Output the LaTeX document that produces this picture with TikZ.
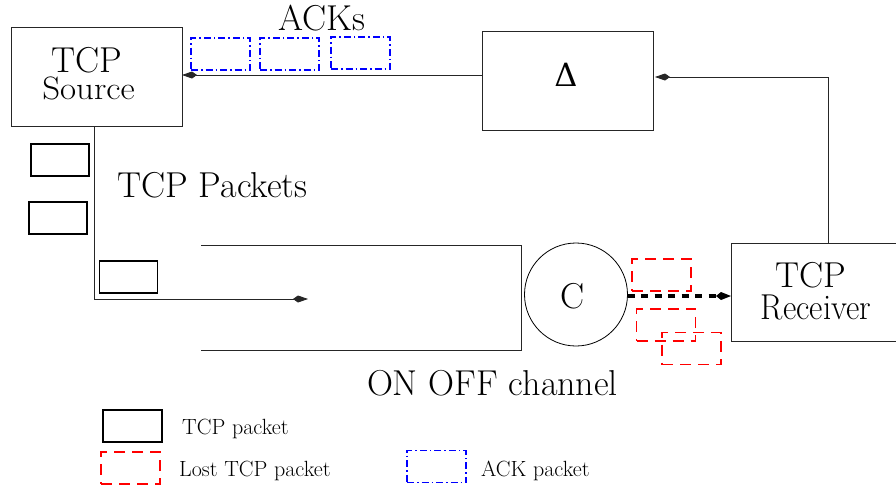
\documentclass[tikz,border=0pt]{standalone}
\usepackage{fontspec}
\usepackage{graphicx}
\newfontfamily\tnr{DejaVu Serif}
\usetikzlibrary{arrows.meta}
\begin{document}
\begin{tikzpicture}[x=1pt,y=-1pt,
  box/.style={draw=black!85,line width=0.8pt,inner sep=0pt,outer sep=0pt,minimum width=171pt,minimum height=99pt},
  pkt/.style={draw=black,line width=1.3pt,inner sep=0pt,outer sep=0pt,minimum width=58pt,minimum height=32pt},
  lost/.style={draw=red,line width=1.4pt,dash pattern=on 11pt off 7pt,inner sep=0pt,outer sep=0pt,minimum width=59pt,minimum height=32pt},
  ackp/.style={draw=blue,line width=1.3pt,dash pattern=on 7pt off 3pt on 1.5pt off 3pt,inner sep=0pt,outer sep=0pt,minimum width=59pt,minimum height=32pt},
  big/.style={font=\rmfamily\fontsize{36}{40}\selectfont,inner sep=0pt,anchor=base},
  small/.style={font=\rmfamily\fontsize{22}{26}\selectfont,inner sep=0pt,anchor=base west},
  conn/.style={draw=black!85,line width=0.8pt},
  tip/.style={-{Kite[length=15pt,width=7pt,inset=5pt]}}
]
\useasboundingbox (0,0) rectangle (896,488);
% boxes
\node[box] (src) at (96.5,76.5) {};
\node[box] (delta) at (567.5,80.5) {};
\node[box,minimum width=179pt,minimum height=98pt] (rcv) at (820.5,292) {};
\node[draw=black,line width=0.8pt,circle,minimum size=103pt,inner sep=0pt,outer sep=0pt] (circ) at (576,294.5) {};
% texts in boxes
\node[big] (srcT) at (86.5,72) {TCP};
\node[big] (srcS) at (88.5,99) {\scalebox{0.97}[0.9]{Source}};
\node[big,font=\tnr\fontsize{32}{36}\selectfont] (deltaT) at (566,86) {Δ};
\node[big] (rcvT) at (811,287) {TCP};
\node[big] (rcvR) at (816,319) {\scalebox{0.91}[1]{Receiver}};
\node[big] (cT) at (572.5,308) {C};
% channel
\draw[conn] (201,245) -- (521,245) -- (521,350) -- (201,350);
% labels
\node[big] (acks) at (322,30) {ACKs};
\node[big,anchor=base west] (tcpp) at (117,197) {TCP Packets};
\node[big] (onoff) at (492.5,395) {ON OFF channel};
% packets
\node[pkt] (p1) at (60,160) {};
\node[pkt] (p2) at (58,218) {};
\node[pkt] (p3) at (128.5,277) {};
\node[ackp] (a1) at (220.5,54) {};
\node[ackp] (a2) at (289.5,54) {};
\node[ackp] (a3) at (360.5,53) {};
\node[lost] (l1) at (661.5,275) {};
\node[lost] (l2) at (666,325) {};
\node[lost] (l3) at (691.5,348.5) {};
% connectors
\coordinate (ackY) at (0,75);
\coordinate (fb) at (828,77);
\coordinate (chx) at (94,0);
\coordinate (chin) at (308,299);
\coordinate (dotY) at (0,296);
\draw[conn,tip] (delta.west |- ackY) -- (src.east |- ackY);
\draw[conn,tip,shorten >=2pt] (rcv.north -| fb) |- (delta.east |- fb);
\draw[conn,tip] (src.south -| chx) |- (chin);
\draw[line width=4pt,dash pattern=on 7pt off 6.5pt,-{Kite[length=15pt,width=8pt,inset=5pt]}] (circ.east |- dotY) -- (rcv.west |- dotY);
% legend
\node[pkt,minimum width=59pt] (k1) at (132.5,426) {};
\node[small] (k1t) at (182,434) {TCP packet};
\node[lost] (k2) at (130.5,468) {};
\node[small] (k2t) at (179,476) {Lost TCP packet};
\node[ackp] (k3) at (436.5,466.5) {};
\node[small] (k3t) at (481,476) {ACK packet};
\end{tikzpicture}
\end{document}
